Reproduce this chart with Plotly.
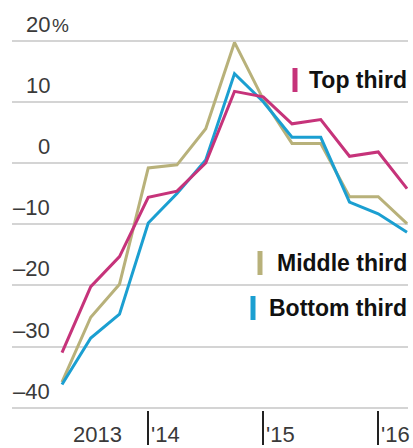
import plotly.graph_objects as go

# ---- data ----
quarters = list(range(13))  # quarterly points, Q1 2013 .. Q1 2016
top_third = [-31.0, -20.2, -15.3, -5.6, -4.6, 0.0, 11.7, 10.8, 6.4, 7.1, 1.1, 1.8, -4.2]
middle_third = [-35.8, -25.2, -19.8, -0.8, -0.3, 5.6, 19.7, 10.4, 3.2, 3.2, -5.5, -5.5, -9.9]
bottom_third = [-36.2, -28.6, -24.7, -9.8, -5.0, 0.5, 14.6, 10.0, 4.2, 4.2, -6.4, -8.3, -11.3]

series_names = ["Middle third", "Bottom third", "Top third"]
series_colors = ["#b8b17a", "#1b9fd1", "#c6337a"]
series_values = [middle_third, bottom_third, top_third]

y_tick_vals = [20, 10, 0, -10, -20, -30, -40]
y_tick_text = ["20%", "10", "0", "–10", "–20", "–30", "–40"]

x_tick_vals = [3, 7, 11]
x_label_text = ["2013", "'14", "'15", "'16"]

# ---- layout geometry ----
W, H = 413, 448
ML, MR, MT, MB = 12, 5, 37, 38
PW, PH = W - ML - MR, H - MT - MB
X0_PX = 62          # pixel of first point
XSTEP = 28.75       # px per quarter
Y0_PX = 163         # pixel of zero line
YSTEP = 6.12        # px per percentage point

xr = [-(X0_PX - ML) / XSTEP, (ML + PW - X0_PX) / XSTEP]
yr = [-(MT + PH - Y0_PX) / YSTEP, (Y0_PX - MT) / YSTEP]


def px_x(px):
    return (px - ML) / PW


def px_y(py):
    return (H - MB - py) / PH


fig = go.Figure()
for name, color, vals in zip(series_names, series_colors, series_values):
    fig.add_trace(go.Scatter(x=quarters, y=vals, mode="lines", name=name,
                             line=dict(color=color, width=3), showlegend=False,
                             hoverinfo="skip"))

annotations = []
# y tick labels
for v, t in zip(y_tick_vals, y_tick_text):
    if t.endswith("%"):
        annotations.append(dict(x=px_x(52), y=v, xref="paper", yref="y", text=t[:-1],
                                xanchor="right", yanchor="bottom", yshift=2, showarrow=False,
                                font=dict(family="Liberation Sans", size=22, color="#3a3a3a")))
        annotations.append(dict(x=px_x(50), y=v, xref="paper", yref="y", text="%",
                                xanchor="left", yanchor="bottom", yshift=3, showarrow=False,
                                font=dict(family="Liberation Sans", size=19, color="#3a3a3a")))
    else:
        annotations.append(dict(x=px_x(52), y=v, xref="paper", yref="y", text=t,
                                xanchor="right", yanchor="bottom", yshift=2, showarrow=False,
                                font=dict(family="Liberation Sans", size=22, color="#3a3a3a")))

# x labels
annotations.append(dict(x=1.25, y=px_y(434), xref="x", yref="paper", text=x_label_text[0],
                        xanchor="center", yanchor="middle", showarrow=False,
                        font=dict(family="Liberation Sans", size=22, color="#3a3a3a")))
for xv, t in zip(x_tick_vals, x_label_text[1:]):
    annotations.append(dict(x=xv, y=px_y(434), xref="x", yref="paper", text=t,
                            xanchor="left", yanchor="middle", xshift=1, showarrow=False,
                            font=dict(family="Liberation Sans", size=22, color="#3a3a3a")))

# legend labels
legend_pos = {"Top third": 80, "Middle third": 263, "Bottom third": 308}
bar_px = {"Top third": 295, "Middle third": 260, "Bottom third": 253}
shapes = []
for name, color in zip(series_names, series_colors):
    cy = legend_pos[name]
    annotations.append(dict(x=px_x(409), y=px_y(cy), xref="paper", yref="paper", text=name,
                            xanchor="right", yanchor="middle", showarrow=False,
                            font=dict(family="Liberation Sans", size=23, color="#111111",
                                      weight="bold")))
    bx = px_x(bar_px[name])
    shapes.append(dict(type="line", xref="paper", yref="paper", layer="above",
                       line=dict(color=color, width=5),
                       x0=bx, x1=bx, y0=px_y(cy - 12), y1=px_y(cy + 12)))

# zero line
shapes.append(dict(type="line", xref="paper", yref="y", x0=0, x1=1, y0=0, y1=0,
                   line=dict(color="#1a1a1a", width=2), layer="below"))

fig.update_layout(
    width=W, height=H,
    margin=dict(l=ML, r=MR, t=MT, b=MB),
    plot_bgcolor="white", paper_bgcolor="white",
    xaxis=dict(range=xr, showgrid=False, zeroline=False, showline=False,
               tickmode="array", tickvals=x_tick_vals, ticktext=["", "", ""],
               ticks="outside", ticklen=34, tickwidth=2, tickcolor="#222222"),
    yaxis=dict(range=yr, showgrid=True, gridcolor="#d4d4d4", gridwidth=1.5,
               zeroline=False, showline=False, tickmode="array", tickvals=y_tick_vals,
               showticklabels=False),
    annotations=annotations,
    shapes=shapes,
)

fig.write_html("out.html")
